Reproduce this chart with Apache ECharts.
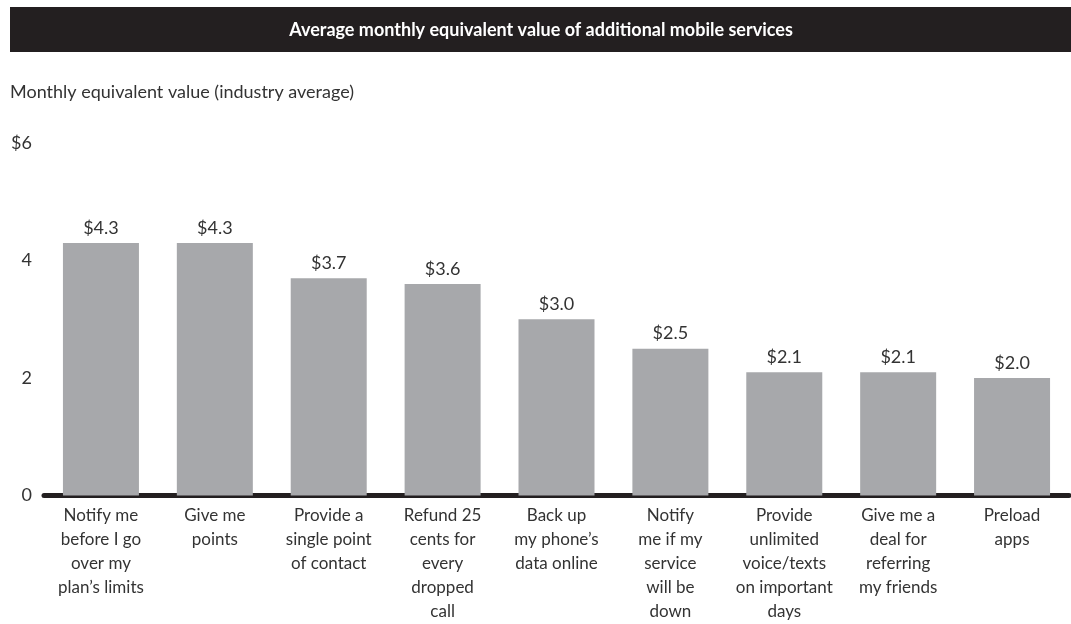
<!DOCTYPE html>
<html>
<head>
<meta charset="utf-8">
<script src="https://cdn.jsdelivr.net/npm/echarts@6/dist/echarts.min.js"></script>
<style>
  html, body { margin: 0; padding: 0; background: #ffffff; }
  #chart { width: 1071px; height: 624px; }
</style>
</head>
<body>
<div id="chart"></div>
<script>
// Services and their monthly equivalent value (USD, industry average)
const categories = [
  "Notify me\nbefore I go\nover my\nplan\u2019s limits",
  "Give me\npoints",
  "Provide a\nsingle point\nof contact",
  "Refund 25\ncents for\nevery\ndropped\ncall",
  "Back up\nmy phone\u2019s\ndata online",
  "Notify\nme if my\nservice\nwill be\ndown",
  "Provide\nunlimited\nvoice/texts\non important\ndays",
  "Give me a\ndeal for\nreferring\nmy friends",
  "Preload\napps"
];
const values = [4.3, 4.3, 3.7, 3.6, 3.0, 2.5, 2.1, 2.1, 2.0];
const yTicks = { min: 0, max: 6, interval: 2 };

const titleText = "Average monthly equivalent value of additional mobile services";
const subtitleText = "Monthly equivalent value (industry average)";

const FONT = "Lato, 'Noto Sans', sans-serif";
const chart = echarts.init(document.getElementById('chart'), null, { renderer: 'canvas' });

chart.setOption({
  backgroundColor: '#ffffff',
  animation: false,
  graphic: [
    {
      type: 'rect',
      shape: { x: 10, y: 7, width: 1061, height: 45 },
      style: { fill: '#231f20' },
      silent: true
    },
    {
      type: 'text',
      x: 541, y: 30,
      style: {
        text: titleText,
        fill: '#ffffff',
        font: "bold 18px " + FONT,
        textAlign: 'center',
        textVerticalAlign: 'middle'
      }
    },
    {
      type: 'text',
      x: 10, y: 92,
      style: {
        text: subtitleText,
        fill: '#333333',
        font: "18px " + FONT,
        textAlign: 'left',
        textVerticalAlign: 'middle'
      }
    }
  ],
  grid: { left: 44, right: 2, top: 143, bottom: 128.5, containLabel: false },
  xAxis: {
    type: 'category',
    data: categories,
    axisLine: { show: true, lineStyle: { color: '#231f20', width: 5 } },
    axisTick: { show: false },
    axisLabel: {
      interval: 0,
      margin: 8,
      color: '#333333',
      fontFamily: FONT,
      fontSize: 17,
      lineHeight: 24,
      align: 'center',
      verticalAlign: 'top'
    }
  },
  yAxis: {
    type: 'value',
    min: yTicks.min,
    max: yTicks.max,
    interval: yTicks.interval,
    axisLine: { show: false },
    axisTick: { show: false },
    splitLine: { show: false },
    axisLabel: {
      margin: 12,
      color: '#333333',
      fontFamily: FONT,
      fontSize: 18,
      formatter: v => (v === yTicks.max ? '$' + v : String(v))
    }
  },
  series: [{
    type: 'bar',
    data: values,
    barWidth: 76,
    itemStyle: { color: '#a7a8ab' },
    label: {
      show: true,
      position: 'top',
      distance: 6,
      color: '#333333',
      fontFamily: FONT,
      fontSize: 18,
      formatter: p => '$' + p.value.toFixed(1)
    }
  }]
});
</script>
</body>
</html>
